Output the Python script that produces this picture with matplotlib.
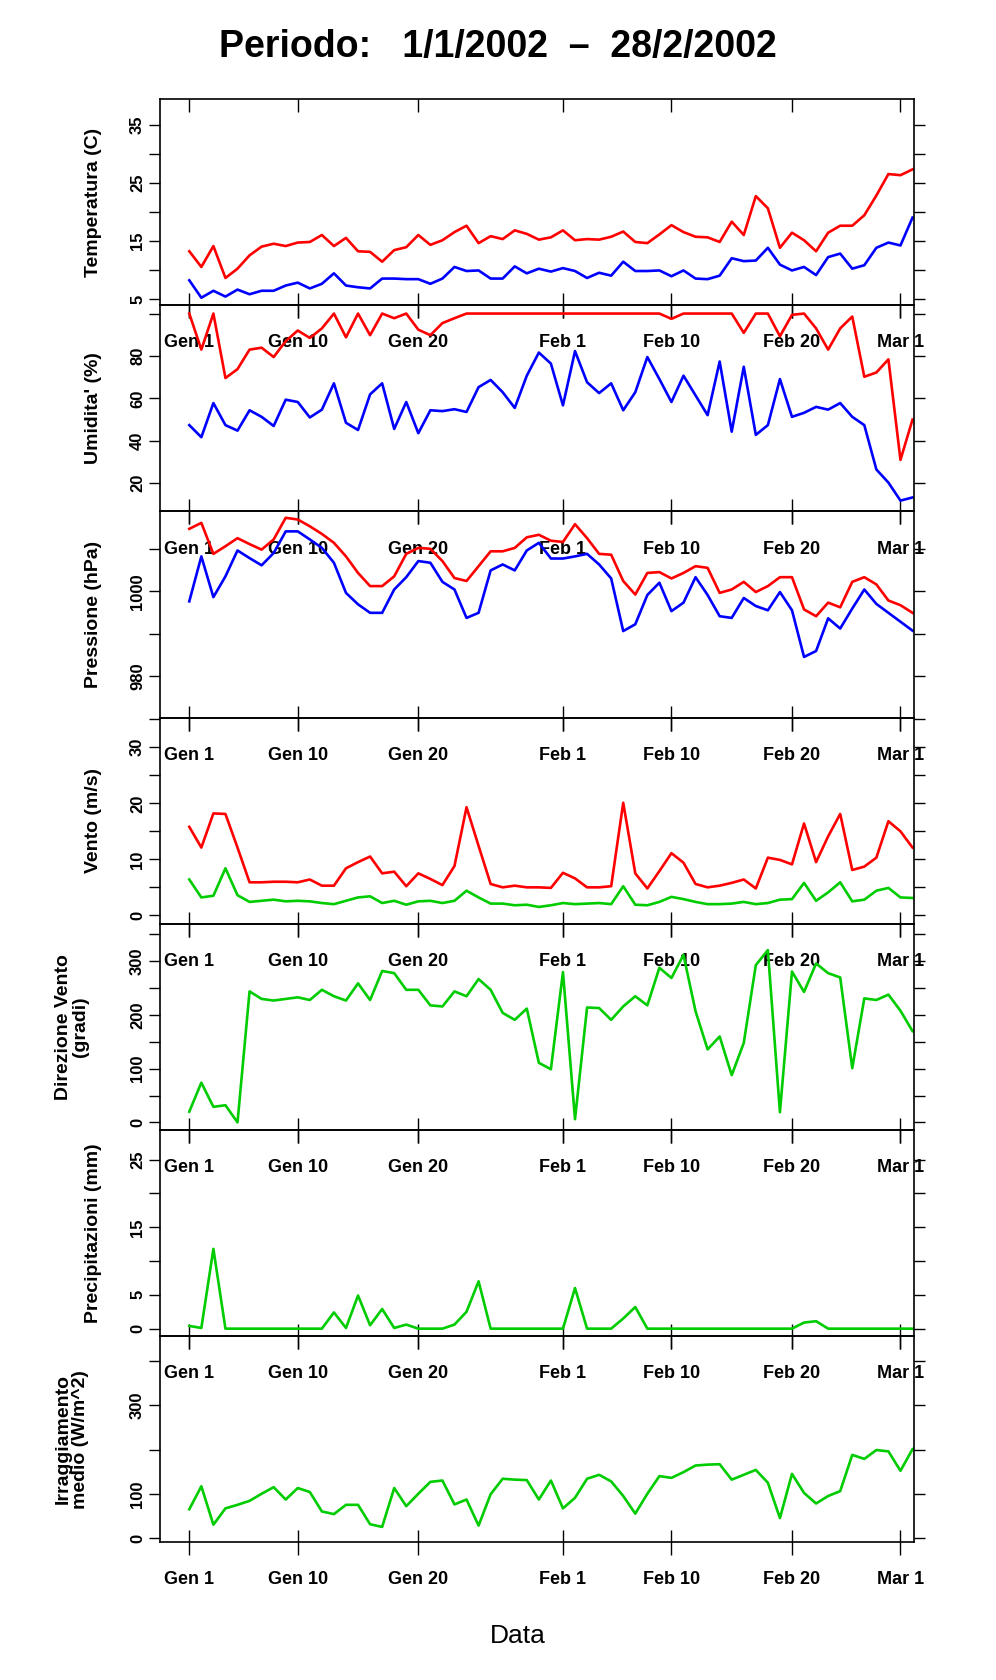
import matplotlib
matplotlib.use("Agg")
import matplotlib.pyplot as plt
import numpy as np

plt.rcParams['font.family'] = ['Liberation Sans', 'DejaVu Sans']
plt.rcParams['font.weight'] = 'bold'

# giorni dal 1 gennaio 2002
days = np.arange(61)

temp_max = [13.2, 10.5, 14.1, 8.6, 10.2, 12.5, 14.0, 14.5, 14.1, 14.7, 14.8, 16.0, 14.1, 15.5, 13.2,
            13.1, 11.4, 13.4, 13.9, 16.0, 14.3, 15.1, 16.5, 17.6, 14.6, 15.8, 15.3, 16.8, 16.2, 15.2,
            15.6, 16.8, 15.1, 15.3, 15.2, 15.7, 16.6, 14.8, 14.6, 16.1, 17.7, 16.5, 15.7, 15.6, 14.8,
            18.3, 16.0, 22.7, 20.6, 13.8, 16.4, 15.1, 13.2, 16.4, 17.6, 17.6, 19.4, 22.8, 26.5, 26.3, 27.3]
temp_min = [8.2, 5.2, 6.4, 5.4, 6.6, 5.8, 6.4, 6.4, 7.3, 7.8, 6.8, 7.6, 9.4, 7.3, 7.0,
            6.8, 8.5, 8.5, 8.4, 8.4, 7.6, 8.5, 10.5, 9.8, 9.9, 8.5, 8.5, 10.6, 9.4, 10.2,
            9.7, 10.3, 9.8, 8.6, 9.5, 9.0, 11.4, 9.8, 9.8, 9.9, 8.9, 9.9, 8.5, 8.4, 9.0,
            12.0, 11.5, 11.6, 13.8, 10.9, 9.9, 10.5, 9.1, 12.2, 12.8, 10.2, 10.8, 13.8, 14.7, 14.2, 19.0]

umid_max = [100, 83, 100, 69.6, 73.8, 83, 83.9, 79.5, 87, 92, 88.5, 93, 100, 88.8, 100,
            89.8, 100, 97.8, 100, 92.4, 89.8, 95.5, 97.8, 100, 100, 100, 100, 100, 100, 100,
            100, 100, 100, 100, 100, 100, 100, 100, 100, 100, 97.5, 100, 100, 100, 100,
            100, 90.9, 100, 100, 89.3, 99.4, 100, 93, 83, 93, 98.6, 70.2, 72.2, 78.4, 31, 50]
umid_min = [47.4, 41.7, 57.8, 47.4, 44.8, 54.4, 51.3, 47, 59.4, 58.3, 51, 54.7, 67.1, 48.5, 45.1,
            61.9, 67.1, 45.6, 58.3, 43.6, 54.4, 54, 54.9, 53.6, 65.3, 68.7, 62.9, 55.5, 70.7, 81.6,
            76.4, 56.7, 82.3, 67.6, 62.5, 67.1, 54.4, 62.9, 79.5, 69.1, 58.3, 70.7, 61.4, 52.1, 77.4,
            44.3, 74.9, 42.8, 47.4, 69.1, 51.3, 53.2, 56, 54.7, 57.8, 51.3, 47.4, 26.5, 20.3, 11.8, 13.3]

press_max = [1014.7, 1016.1, 1008.8, 1010.6, 1012.5, 1011.1, 1009.8, 1012.2, 1017.3, 1016.9, 1015.3,
             1013.5, 1011.4, 1008.2, 1004.3, 1001.2, 1001.2, 1003.5, 1008.8, 1010.2, 1010.0, 1007.1,
             1003.1, 1002.4, 1005.9, 1009.4, 1009.4, 1010.2, 1012.7, 1013.3, 1011.9, 1011.6, 1015.8,
             1012.5, 1008.8, 1008.6, 1002.4, 999.2, 1004.3, 1004.5, 1003.0, 1004.3, 1005.9, 1005.5,
             999.6, 1000.4, 1002.2, 999.8, 1001.2, 1003.3, 1003.3, 995.7, 994.1, 997.3, 996.2, 1002.2,
             1003.3, 1001.6, 997.8, 996.7, 994.9]
press_min = [997.6, 1008.2, 998.6, 1003.5, 1009.6, 1007.8, 1006.1, 1009.0, 1014.1, 1014.1, 1012.2,
             1010.2, 1006.7, 999.6, 996.9, 994.9, 994.9, 1000.4, 1003.3, 1007.1, 1006.7, 1002.2,
             1000.4, 993.7, 994.9, 1004.9, 1006.3, 1004.9, 1009.6, 1011.4, 1007.7, 1007.7, 1008.2,
             1008.8, 1006.3, 1003.0, 990.6, 992.2, 999.1, 1002.0, 995.3, 997.3, 1003.3, 999.1,
             994.1, 993.7, 998.4, 996.5, 995.5, 999.8, 995.5, 984.5, 985.9, 993.6, 991.2, 995.9,
             1000.4, 997.0, 994.9, 992.8, 990.7]

vento_max = [15.8, 12.1, 18.2, 18.1, 12.1, 5.9, 5.9, 6.0, 6.0, 5.9, 6.4, 5.3, 5.3, 8.4, 9.5,
             10.5, 7.5, 7.8, 5.2, 7.5, 6.5, 5.4, 8.8, 19.3, 12.4, 5.6, 5.0, 5.3, 5.0, 5.0,
             4.9, 7.6, 6.6, 5.0, 5.0, 5.2, 20.1, 7.5, 4.8, 7.9, 11.1, 9.4, 5.6, 5.0, 5.3,
             5.8, 6.4, 4.8, 10.3, 9.9, 9.1, 16.4, 9.5, 14.1, 18.1, 8.1, 8.7, 10.3, 16.8, 15.0, 12.1]
vento_med = [6.4, 3.2, 3.5, 8.4, 3.6, 2.4, 2.6, 2.8, 2.5, 2.6, 2.5, 2.2, 2.0, 2.6, 3.2,
             3.4, 2.2, 2.6, 1.9, 2.5, 2.6, 2.2, 2.6, 4.4, 3.2, 2.1, 2.1, 1.8, 1.9, 1.5,
             1.8, 2.2, 2.0, 2.1, 2.2, 2.0, 5.2, 1.9, 1.8, 2.4, 3.3, 2.9, 2.4, 2.0, 2.0,
             2.1, 2.4, 2.0, 2.2, 2.8, 2.9, 5.8, 2.6, 4.1, 5.9, 2.5, 2.8, 4.4, 4.9, 3.2, 3.1]

direzione = [20, 74, 29, 32, 0, 244, 230, 227, 230, 233, 228, 247, 235, 227, 259,
             228, 282, 278, 247, 247, 218, 216, 244, 235, 267, 247, 204, 191, 212, 111,
             99, 280, 6, 214, 213, 191, 216, 235, 218, 288, 269, 312, 207, 136, 160,
             88, 148, 293, 321, 19, 281, 243, 296, 278, 270, 101, 231, 228, 238, 208, 170]

precip = [0.4, 0.1, 11.8, 0, 0, 0, 0, 0, 0, 0, 0, 0, 2.4, 0.1, 4.9,
          0.5, 2.9, 0.1, 0.6, 0, 0, 0, 0.6, 2.5, 7.0, 0, 0, 0, 0, 0,
          0, 0, 6.0, 0, 0, 0, 1.5, 3.2, 0, 0, 0, 0, 0, 0, 0,
          0, 0, 0, 0, 0, 0, 0.9, 1.1, 0, 0, 0, 0, 0, 0, 0, 0]

irragg = [65, 117, 30, 67, 75, 84, 100, 115, 87, 113, 104, 60, 54, 75, 75,
          31, 25, 113, 72, 100, 127, 130, 76, 87, 28, 99, 134, 132, 131, 87,
          130, 67, 91, 134, 143, 128, 95, 55, 100, 140, 136, 149, 164, 166, 167,
          132, 143, 154, 125, 45, 145, 102, 78, 95, 106, 188, 179, 199, 196, 152, 201]

tick_days = [0, 9, 19, 31, 40, 50, 59]
tick_labels = ["Gen 1", "Gen 10", "Gen 20", "Feb 1", "Feb 10", "Feb 20", "Mar 1"]

RED = "#ff0000"
BLUE = "#0000ff"
GREEN = "#00cc00"

panels = [
    ("Temperatura (C)", [(temp_max, RED), (temp_min, BLUE)], (3.9, 39.4), np.arange(5, 40, 5), [5, 15, 25, 35]),
    ("Umidita' (%)", [(umid_max, RED), (umid_min, BLUE)], (6.7, 103.9), np.arange(20, 101, 20), [20, 40, 60, 80]),
    ("Pressione (hPa)", [(press_max, RED), (press_min, BLUE)], (970.2, 1018.8), np.arange(980, 1011, 10), [980, 1000]),
    ("Vento (m/s)", [(vento_max, RED), (vento_med, GREEN)], (-1.5, 35.3), np.arange(0, 36, 5), [0, 10, 20, 30]),
    ("Direzione Vento\n(gradi)", [(direzione, GREEN)], (-14, 370), np.arange(0, 351, 50), [0, 100, 200, 300]),
    ("Precipitazioni (mm)", [(precip, GREEN)], (-1.1, 29.4), np.arange(0, 26, 5), [0, 5, 15, 25]),
    ("Irraggiamento\nmedio (W/m^2)", [(irragg, GREEN)], (-9.7, 457), np.arange(0, 401, 100), [0, 100, 300]),
]

fig = plt.figure(figsize=(9.96, 16.8), dpi=100)
left, right = 0.161, 0.918
top, bottom = 1 - 0.059, 1 - 0.918
h = (top - bottom) / len(panels)

for i, (label, series, ylim, yticks, ylabels) in enumerate(panels):
    ax = fig.add_axes([left, top - (i + 1) * h, right - left, h])
    ax.set_facecolor("none")
    for vals, col in series:
        ax.plot(days, vals, color=col, lw=1.9, clip_on=True)
    ax.set_xlim(-2.4, 60.15)
    ax.set_ylim(*ylim)
    ax.set_xticks(tick_days)
    ax.set_xticklabels(tick_labels, fontsize=13, fontweight="bold")
    ax.tick_params(axis="x", bottom=True, top=False, direction="inout", length=18, width=1, pad=12)
    sec = ax.secondary_xaxis("top")
    sec.set_xticks(tick_days)
    sec.set_xticklabels([])
    sec.tick_params(direction="in", length=9, width=1)
    sec.spines["top"].set_visible(False)
    ax.set_yticks(yticks)
    ax.set_yticklabels([str(t) if t in ylabels else "" for t in yticks],
                       rotation=90, va="center", fontsize=12, fontweight="bold")
    ax.tick_params(axis="y", left=True, right=True, direction="out", length=8, width=1, pad=3)
    ax.set_ylabel(label, fontsize=14, fontweight="bold", multialignment="center", linespacing=1.0)
    ax.yaxis.set_label_coords(-0.078 if "\n" not in label else -0.095, 0.5)
    for sp in ax.spines.values():
        sp.set_linewidth(1.2)

fig.text(0.5, 0.972, "Periodo:   1/1/2002  \u2013  28/2/2002", ha="center", va="center",
         fontsize=27, fontweight="bold")
fig.text(0.52, 0.026, "Data", ha="center", va="center", fontsize=19, fontweight="normal")

fig.savefig("out.png", dpi=100, facecolor="white")
